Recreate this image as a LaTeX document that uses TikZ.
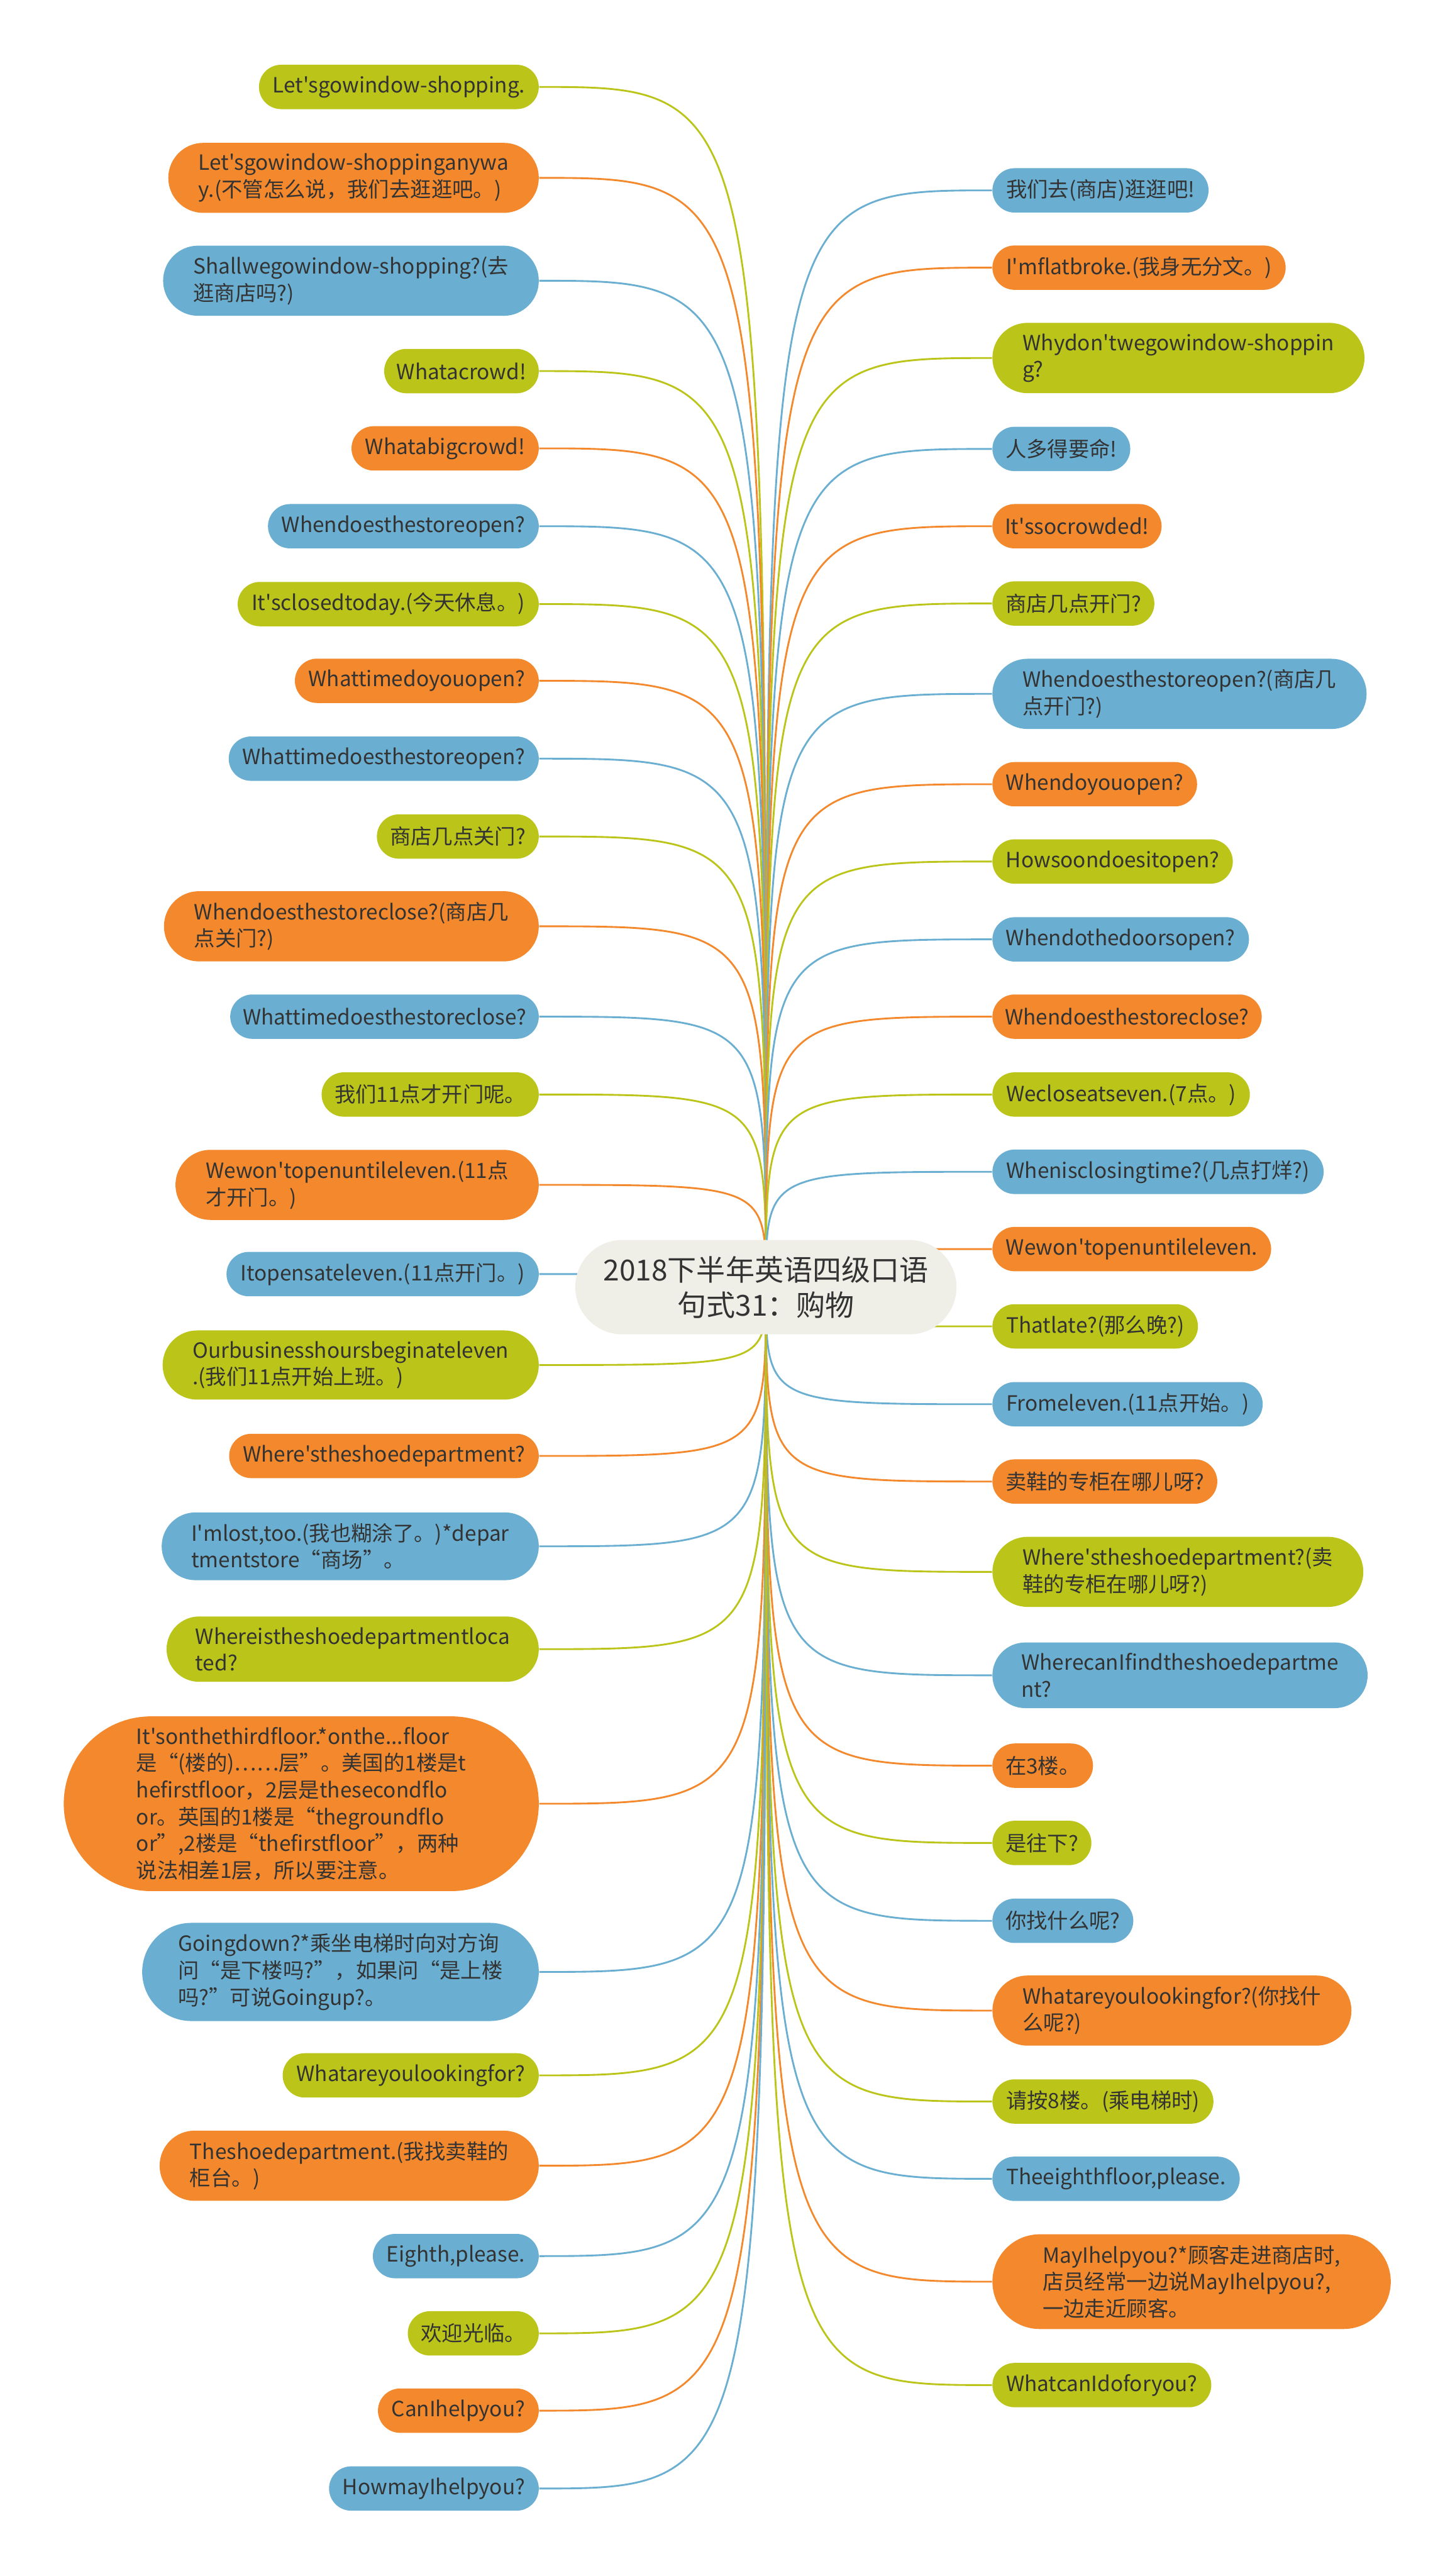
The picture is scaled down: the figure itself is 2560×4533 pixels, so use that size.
\documentclass[tikz,border=0pt]{standalone}
\usepackage{fontspec}
\usepackage{xcolor}
\usepackage{tikz}
\usetikzlibrary{shapes.misc, backgrounds}
\newfontfamily\cjkfont{Noto Sans CJK SC}
\definecolor{mmgreen}{RGB}{187, 196, 24}
\definecolor{mmorange}{RGB}{243, 137, 44}
\definecolor{mmblue}{RGB}{106, 175, 210}
\definecolor{mmroot}{RGB}{239, 239, 232}
\definecolor{mmtext}{RGB}{51, 51, 51}

\begin{document}
\begin{tikzpicture}[x=0.01cm, y=-0.01cm,
    leaf/.style={rounded rectangle, fill=#1, text=mmtext, align=left,
      font=\cjkfont\fontsize{10.5}{13.4}\selectfont,
      inner xsep=0.19cm, inner ysep=0.19cm, minimum height=0.78cm},
    lleaf/.style={leaf=#1, anchor=east},
    rleaf/.style={leaf=#1, anchor=west},
    two/.style={inner xsep=0.36cm},
    link/.style={line width=0.9pt}]
    \useasboundingbox (0,0) rectangle (2560,4533);

    \node[rounded rectangle, fill=mmroot, text=mmtext, align=center,
      font=\cjkfont\fontsize{14.5}{17.6}\selectfont,
      minimum width=6.94cm, minimum height=1.66cm] (root) at (1348,2265)
      {2018下半年英语四级口语\\句式31：购物};

    % Sinistra
    \node[lleaf=mmgreen] (l1) at (949,153) {Let'sgowindow-shopping.};
    \node[lleaf=mmorange, two] (l2) at (949,313) {Let'sgowindow-shoppinganywa\\y.(不管怎么说，我们去逛逛吧。)};
    \node[lleaf=mmblue, two] (l3) at (949,494) {Shallwegowindow-shopping?(去\\逛商店吗?)};
    \node[lleaf=mmgreen] (l4) at (949,653) {Whatacrowd!};
    \node[lleaf=mmorange] (l5) at (949,789) {Whatabigcrowd!};
    \node[lleaf=mmblue] (l6) at (949,926) {Whendoesthestoreopen?};
    \node[lleaf=mmgreen] (l7) at (949,1063) {It'sclosedtoday.(今天休息。)};
    \node[lleaf=mmorange] (l8) at (949,1198) {Whattimedoyouopen?};
    \node[lleaf=mmblue] (l9) at (949,1335) {Whattimedoesthestoreopen?};
    \node[lleaf=mmgreen] (l10) at (949,1472) {商店几点关门?};
    \node[lleaf=mmorange, two] (l11) at (949,1630) {Whendoesthestoreclose?(商店几\\点关门?)};
    \node[lleaf=mmblue] (l12) at (949,1789) {Whattimedoesthestoreclose?};
    \node[lleaf=mmgreen] (l13) at (949,1926) {我们11点才开门呢。};
    \node[lleaf=mmorange, two] (l14) at (949,2085) {Wewon'topenuntileleven.(11点\\才开门。)};
    \node[lleaf=mmblue] (l15) at (949,2242) {Itopensateleven.(11点开门。)};
    \node[lleaf=mmgreen, two] (l16) at (949,2402) {Ourbusinesshoursbeginateleven\\.(我们11点开始上班。)};
    \node[lleaf=mmorange] (l17) at (949,2562) {Where'stheshoedepartment?};
    \node[lleaf=mmblue, two] (l18) at (949,2721) {I'mlost,too.(我也糊涂了。)*depar\\tmentstore“商场”。};
    \node[lleaf=mmgreen, two] (l19) at (949,2902) {Whereistheshoedepartmentloca\\ted?};
    \node[lleaf=mmorange, inner xsep=0.48cm] (l20) at (949,3174) {It'sonthethirdfloor.*onthe...floor\\是“(楼的)……层”。美国的1楼是t\\hefirstfloor，2层是thesecondflo\\or。英国的1楼是“thegroundflo\\or”,2楼是“thefirstfloor”，两种\\说法相差1层，所以要注意。};
    \node[lleaf=mmblue, inner xsep=0.31cm] (l21) at (949,3470) {Goingdown?*乘坐电梯时向对方询\\问“是下楼吗?”，如果问“是上楼\\吗?”可说Goingup?。};
    \node[lleaf=mmgreen] (l22) at (949,3652) {Whatareyoulookingfor?};
    \node[lleaf=mmorange, two] (l23) at (949,3811) {Theshoedepartment.(我找卖鞋的\\柜台。)};
    \node[lleaf=mmblue] (l24) at (949,3970) {Eighth,please.};
    \node[lleaf=mmgreen] (l25) at (949,4106) {欢迎光临。};
    \node[lleaf=mmorange] (l26) at (949,4242) {CanIhelpyou?};
    \node[lleaf=mmblue] (l27) at (949,4379) {HowmayIhelpyou?};

    % Destra
    \node[rleaf=mmblue] (r1) at (1746,335) {我们去(商店)逛逛吧!};
    \node[rleaf=mmorange] (r2) at (1746,471) {I'mflatbroke.(我身无分文。)};
    \node[rleaf=mmgreen, two] (r3) at (1746,630) {Whydon'twegowindow-shoppin\\g?};
    \node[rleaf=mmblue] (r4) at (1746,790) {人多得要命!};
    \node[rleaf=mmorange] (r5) at (1746,926) {It'ssocrowded!};
    \node[rleaf=mmgreen] (r6) at (1746,1062) {商店几点开门?};
    \node[rleaf=mmblue, two] (r7) at (1746,1221) {Whendoesthestoreopen?(商店几\\点开门?)};
    \node[rleaf=mmorange] (r8) at (1746,1380) {Whendoyouopen?};
    \node[rleaf=mmgreen] (r9) at (1746,1516) {Howsoondoesitopen?};
    \node[rleaf=mmblue] (r10) at (1746,1653) {Whendothedoorsopen?};
    \node[rleaf=mmorange] (r11) at (1746,1789) {Whendoesthestoreclose?};
    \node[rleaf=mmgreen] (r12) at (1746,1926) {Wecloseatseven.(7点。)};
    \node[rleaf=mmblue] (r13) at (1746,2062) {Whenisclosingtime?(几点打烊?)};
    \node[rleaf=mmorange] (r14) at (1746,2198) {Wewon'topenuntileleven.};
    \node[rleaf=mmgreen] (r15) at (1746,2334) {Thatlate?(那么晚?)};
    \node[rleaf=mmblue] (r16) at (1746,2471) {Fromeleven.(11点开始。)};
    \node[rleaf=mmorange] (r17) at (1746,2607) {卖鞋的专柜在哪儿呀?};
    \node[rleaf=mmgreen, two] (r18) at (1746,2766) {Where'stheshoedepartment?(卖\\鞋的专柜在哪儿呀?)};
    \node[rleaf=mmblue, two] (r19) at (1746,2948) {WherecanIfindtheshoedepartme\\nt?};
    \node[rleaf=mmorange] (r20) at (1746,3107) {在3楼。};
    \node[rleaf=mmgreen] (r21) at (1746,3243) {是往下?};
    \node[rleaf=mmblue] (r22) at (1746,3380) {你找什么呢?};
    \node[rleaf=mmorange, two] (r23) at (1746,3538) {Whatareyoulookingfor?(你找什\\么呢?)};
    \node[rleaf=mmgreen] (r24) at (1746,3698) {请按8楼。(乘电梯时)};
    \node[rleaf=mmblue] (r25) at (1746,3834) {Theeighthfloor,please.};
    \node[rleaf=mmorange, inner xsep=0.58cm] (r26) at (1746,4015) {MayIhelpyou?*顾客走进商店时,\\店员经常一边说MayIhelpyou?,\\一边走近顾客。};
    \node[rleaf=mmgreen] (r27) at (1746,4197) {WhatcanIdoforyou?};

    % Rami
    \begin{scope}[on background layer]
        \foreach \n/\c in {l1/mmgreen, l2/mmorange, l3/mmblue, l4/mmgreen, l5/mmorange, l6/mmblue,
            l7/mmgreen, l8/mmorange, l9/mmblue, l10/mmgreen, l11/mmorange, l12/mmblue,
            l13/mmgreen, l14/mmorange, l15/mmblue, l16/mmgreen, l17/mmorange, l18/mmblue,
            l19/mmgreen, l20/mmorange, l21/mmblue, l22/mmgreen, l23/mmorange, l24/mmblue,
            l25/mmgreen, l26/mmorange, l27/mmblue}
            \draw[link, color=\c] (root.center) .. controls (root.center |- \n.east) .. (\n.east);
        \foreach \n/\c in {r1/mmblue, r2/mmorange, r3/mmgreen, r4/mmblue, r5/mmorange, r6/mmgreen,
            r7/mmblue, r8/mmorange, r9/mmgreen, r10/mmblue, r11/mmorange, r12/mmgreen,
            r13/mmblue, r14/mmorange, r15/mmgreen, r16/mmblue, r17/mmorange, r18/mmgreen,
            r19/mmblue, r20/mmorange, r21/mmgreen, r22/mmblue, r23/mmorange, r24/mmgreen,
            r25/mmblue, r26/mmorange, r27/mmgreen}
            \draw[link, color=\c] (root.center) .. controls (root.center |- \n.west) .. (\n.west);
    \end{scope}
\end{tikzpicture}
\end{document}
